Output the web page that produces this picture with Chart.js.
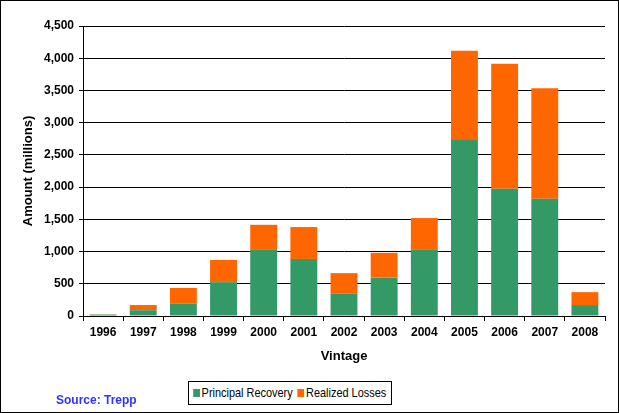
<!DOCTYPE html>
<html>
<head>
<meta charset="utf-8">
<script src="https://cdn.jsdelivr.net/npm/chart.js@4"></script>
<style>
  html, body { margin: 0; padding: 0; background: #fff; }
  #frame { position: relative; width: 619px; height: 413px; box-sizing: border-box; border: 1px solid #000; background: #fff; }
  #wrap { position: absolute; left: 0; top: 0; width: 617px; height: 411px; }
  #legend { position: absolute; left: 187px; top: 380px; width: 202px; height: 22px; border: 1px solid #000; background: #fff;
    font: 13px "Liberation Sans", Arial, sans-serif; color: #000; line-height: 22px; white-space: nowrap; overflow: hidden; }
  #legend .inner { display: inline-block; transform: scaleX(0.84); transform-origin: 0 50%; }
  #legend span.sw { display: inline-block; width: 8px; height: 8px; margin: 0 2px 0 5px; vertical-align: 0px; }
  #source { position: absolute; left: 55px; top: 392px; font: bold 12px "Liberation Sans", Arial, sans-serif; color: #3333ff; }
</style>
</head>
<body>
<div id="frame">
  <div id="wrap"><canvas id="chart" width="617" height="411"></canvas></div>
  <div id="legend"><span class="inner"><span class="sw" style="background:#339966"></span>Principal Recovery<span class="sw" style="background:#ff6600;margin-left:6px"></span>Realized Losses</span></div>
  <div id="source">Source: Trepp</div>
</div>
<script>
// 年份（Vintage）
const vintages = ['1996', '1997', '1998', '1999', '2000', '2001', '2002', '2003', '2004', '2005', '2006', '2007', '2008'];
// 單位：百萬
const principalRecovery = [22, 90, 190, 525, 1025, 885, 345, 595, 1025, 2730, 1975, 1820, 170];
const realizedLosses = [3, 80, 245, 345, 390, 495, 320, 385, 495, 1385, 1940, 1715, 200];
const yTicks = [0, 500, 1000, 1500, 2000, 2500, 3000, 3500, 4000, 4500];

const tickFont = { family: '"Liberation Sans", Arial, sans-serif', size: 12, weight: 'bold' };

const ctx = document.getElementById('chart').getContext('2d');
new Chart(ctx, {
  type: 'bar',
  data: {
    labels: vintages,
    datasets: [
      { label: 'Principal Recovery', data: principalRecovery, backgroundColor: '#339966', borderWidth: 0 },
      { label: 'Realized Losses', data: realizedLosses, backgroundColor: '#ff6600', borderWidth: 0 }
    ]
  },
  options: {
    responsive: false,
    animation: false,
    layout: { padding: { left: 20, top: 25, right: 13, bottom: 48 } },
    plugins: { legend: { display: false }, tooltip: { enabled: false } },
    datasets: { bar: { barPercentage: 0.67, categoryPercentage: 1 } },
    scales: {
      x: {
        stacked: true,
        afterFit(scale) { scale.height = 48; },
        grid: { offset: true, drawOnChartArea: false, drawTicks: true, tickLength: 5, color: '#000' },
        border: { color: '#000', width: 1 },
        ticks: { color: '#000', font: tickFont, padding: 4, maxRotation: 0 },
        title: { display: true, text: 'Vintage', color: '#000', font: { ...tickFont, size: 13 }, padding: 0 }
      },
      y: {
        stacked: true,
        min: 0,
        max: 4500,
        afterFit(scale) { scale.width = 62; },
        afterBuildTicks(scale) { scale.ticks = yTicks.map(v => ({ value: v })); },
        grid: { color: '#000', tickLength: 4, drawTicks: true },
        border: { color: '#000', width: 1 },
        ticks: {
          color: '#000', font: tickFont, padding: 5,
          callback: v => Number(v).toLocaleString('en-US')
        },
        title: { display: true, text: 'Amount (millions)', color: '#000', font: { ...tickFont, size: 13 }, padding: 0 }
      }
    }
  }
});
</script>
</body>
</html>
